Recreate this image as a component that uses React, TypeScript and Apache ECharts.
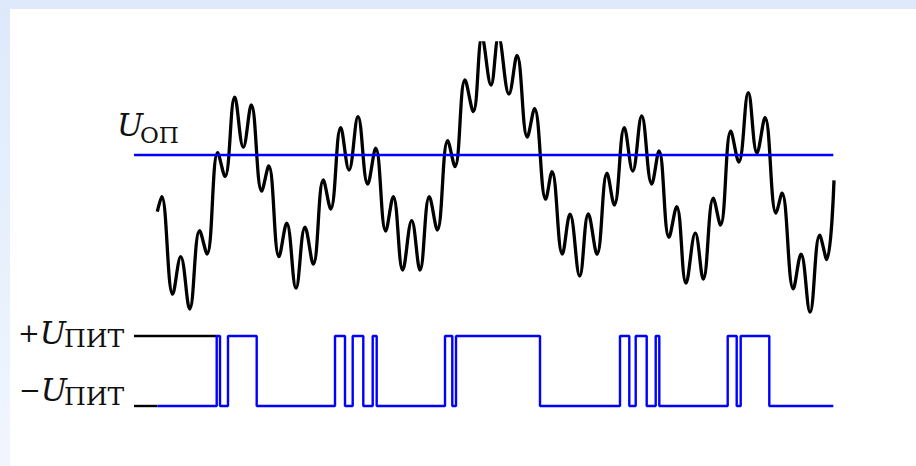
import React, { useEffect, useRef } from "react";
import * as echarts from "echarts";

// Input signal: local extrema of the waveform (time, volts). The two tallest
// crests rise past the top of the plot and are cut off by the grid.
const signalT = [
  2.33, 2.77, 3.87, 4.67, 5.57, 6.56, 7.3, 8.37, 9.1, 10.07, 10.93, 11.73,
  12.77, 13.47, 14.5, 15.27, 16.2, 17.1, 17.93, 18.93, 19.67, 20.67, 21.5,
  22.4, 23.37, 24.17, 25.17, 25.93, 26.87, 27.77, 28.6, 29.53, 30.33, 31.37,
  32.1, 33.1, 33.93, 34.8, 35.7, 36.45, 37.5, 38.3, 39.33, 40.05, 41.17, 41.8,
  42.83, 43.6, 44.57, 45.43, 46.3, 47.3, 48.03, 49.03, 49.87, 50.77, 51.77,
  52.5, 53.5, 54.27, 55.2, 56.13, 56.93, 57.93, 58.65, 59.68, 60.48, 61.43,
  62.3, 63.1, 64.2, 64.8, 65.93, 66.7, 67.6, 68.57, 69.27, 70.0,
];
const signalV = [
  5.17, 5.92, 1.04, 2.92, 0.3, 4.22, 3.05, 8.12, 6.92, 10.89, 8.39, 10.5,
  6.2, 7.45, 2.92, 4.59, 1.34, 4.39, 2.54, 6.75, 5.3, 9.37, 7.25, 9.92, 6.55,
  8.34, 4.2, 5.92, 2.25, 4.72, 2.25, 5.92, 4.25, 8.72, 7.42, 11.75, 10.17,
  13.9, 11.5, 13.9, 11.05, 12.98, 8.89, 10.32, 5.79, 7.17, 3.05, 5.04, 1.95,
  5.05, 3.04, 7.09, 5.5, 9.37, 7.2, 9.95, 6.55, 8.2, 3.89, 5.42, 1.59, 4.09,
  1.79, 5.84, 4.5, 9.19, 7.65, 11.12, 8.1, 9.87, 5.09, 6.09, 1.31, 3.04, 0.14,
  3.99, 2.77, 6.73,
];

// Reference voltage U_ОП and the span of its line
const referenceLevel = 8;
const referenceSpan = [0, 69.93];

// Comparator output: switching instants and the level held from each one
const switchT = [
  2.33, 8.27, 8.6, 9.4, 12.27, 20.1, 21.1, 21.87, 22.93, 23.87, 24.27, 31.1,
  31.83, 32.2, 40.6, 48.6, 49.53, 50.17, 51.27, 52.17, 52.53, 59.37, 60.27,
  60.67, 63.53, 69.93,
];
const switchLevel = [
  -1, 1, -1, 1, -1, 1, -1, 1, -1, 1, -1, 1, -1, 1, -1, 1, -1, 1, -1, 1, -1, 1,
  -1, 1, -1, -1,
];

// Supply rails ±U_ПИТ and how far their black leaders run
const supplyHigh = 1;
const supplyLow = -1;
const leaderEnd = [8.27, 2.33];

const BLUE = "#0000ff";
const SERIF = '"DejaVu Serif", "Liberation Serif", serif';

function label(text: string, x: number, y: number, size: number, italic = false) {
  return {
    type: "text",
    x,
    y,
    z: 10,
    style: {
      text,
      fill: "#111",
      fontFamily: SERIF,
      fontSize: size,
      fontStyle: italic ? "italic" : "normal",
      align: "left",
      verticalAlign: "middle",
    },
  };
}

// Sign and italic U set as one rich-text run
function signedU(sign: string, x: number, y: number) {
  return {
    type: "text",
    x,
    y,
    z: 10,
    style: {
      text: `{s|${sign}}{u|U}`,
      fill: "#111",
      align: "left",
      verticalAlign: "middle",
      rich: {
        s: {
          fontFamily: SERIF,
          fontSize: 26,
          fill: "#111",
          verticalAlign: "middle",
        },
        u: {
          fontFamily: SERIF,
          fontSize: 31,
          fontStyle: "italic",
          fill: "#111",
          verticalAlign: "middle",
        },
      },
    },
  };
}

export default function App() {
  const ref = useRef<HTMLDivElement>(null);

  useEffect(() => {
    if (!ref.current) return;
    const chart = echarts.init(ref.current, null, { renderer: "svg" });

    const signal = signalT.map((t, i) => [t, signalV[i]]);
    const comparator = switchT.map((t, i) => [t, switchLevel[i]]);

    const hiddenX = {
      type: "value" as const,
      min: 0,
      max: 70,
      show: false,
    };

    chart.setOption({
      animation: false,
      backgroundColor: "#ffffff",
      grid: [
        { left: 134, right: 82, top: 43, bottom: 151 },
        { left: 134, right: 82, top: 336, bottom: 60 },
      ],
      xAxis: [
        { ...hiddenX, gridIndex: 0 },
        { ...hiddenX, gridIndex: 1 },
      ],
      yAxis: [
        { type: "value", gridIndex: 0, min: 0, max: 13.6, show: false },
        { type: "value", gridIndex: 1, min: -1, max: 1, show: false },
      ],
      graphic: [
        {
          type: "rect",
          z: -10,
          shape: { x: 0, y: 0, width: 10, height: 466 },
          style: {
            fill: new echarts.graphic.LinearGradient(0, 0, 0, 1, [
              { offset: 0, color: "#dde9fb" },
              { offset: 1, color: "#f1f6fe" },
            ]),
          },
        },
        {
          type: "rect",
          z: -10,
          shape: { x: 0, y: 0, width: 916, height: 9 },
          style: { fill: "#dee9fb" },
        },
        label("U", 117, 124.5, 31, true),
        label("ОП", 140, 134.5, 23),
        signedU("+", 18, 332.5),
        label("ПИТ", 64, 338, 25),
        signedU("−", 19, 389.5),
        label("ПИТ", 64, 396, 25),
      ],
      series: [
        {
          type: "line",
          xAxisIndex: 0,
          yAxisIndex: 0,
          data: signal,
          smooth: 0.4,
          showSymbol: false,
          clip: true,
          lineStyle: { color: "#000", width: 3.3 },
          z: 3,
        },
        {
          type: "line",
          xAxisIndex: 0,
          yAxisIndex: 0,
          data: referenceSpan.map((t) => [t, referenceLevel]),
          showSymbol: false,
          clip: false,
          lineStyle: { color: BLUE, width: 2.6 },
          z: 4,
        },
        {
          type: "line",
          xAxisIndex: 1,
          yAxisIndex: 1,
          data: [
            [0, supplyHigh],
            [leaderEnd[0], supplyHigh],
          ],
          showSymbol: false,
          clip: false,
          lineStyle: { color: "#000", width: 2.4 },
          z: 2,
        },
        {
          type: "line",
          xAxisIndex: 1,
          yAxisIndex: 1,
          data: [
            [0, supplyLow],
            [leaderEnd[1], supplyLow],
          ],
          showSymbol: false,
          clip: false,
          lineStyle: { color: "#000", width: 2.4 },
          z: 2,
        },
        {
          type: "line",
          xAxisIndex: 1,
          yAxisIndex: 1,
          data: comparator,
          step: "end",
          showSymbol: false,
          clip: false,
          lineStyle: { color: BLUE, width: 2.4 },
          z: 3,
        },
      ],
    });

    return () => chart.dispose();
  }, []);

  return (
    <div
      ref={ref}
      style={{ position: "fixed", left: 0, top: 0, width: 916, height: 466 }}
    />
  );
}
